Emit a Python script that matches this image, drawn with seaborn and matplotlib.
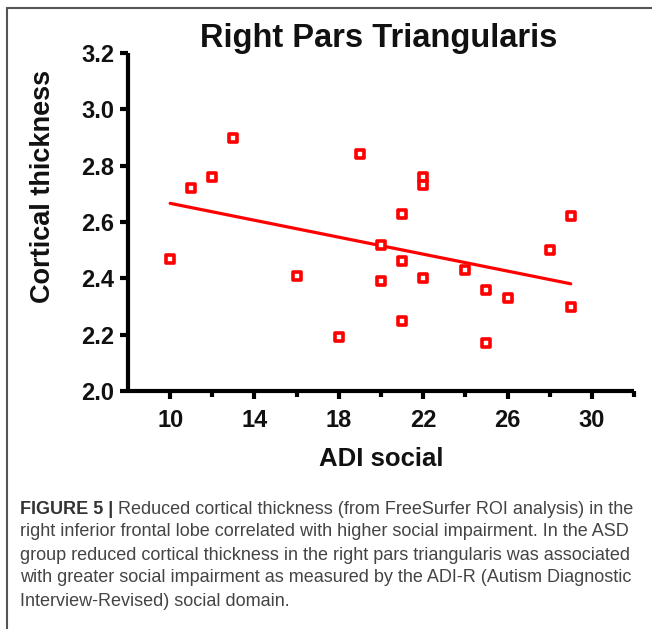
import matplotlib
matplotlib.use("Agg")
import matplotlib.pyplot as plt
import seaborn as sns
import pandas as pd
import numpy as np
from matplotlib.lines import Line2D

# ---- data ----
adi_social = [10, 11, 12, 13, 16, 18, 19, 20, 20, 21, 21, 21, 22, 22, 22, 24, 25, 25, 26, 28, 29, 29]
thickness = [2.47, 2.72, 2.76, 2.90, 2.41, 2.19, 2.84, 2.52, 2.39, 2.63, 2.46, 2.25,
             2.76, 2.73, 2.40, 2.43, 2.36, 2.17, 2.33, 2.50, 2.62, 2.30]
x_ticks = [10, 14, 18, 22, 26, 30]
x_minor = [12, 16, 20, 24, 28, 32]
y_ticks = [2.0, 2.2, 2.4, 2.6, 2.8, 3.0, 3.2]
title = "Right Pars Triangularis"
xlabel = "ADI social"
ylabel = "Cortical thickness"
caption_bold = "FIGURE 5 |"
caption_lines = [
    " Reduced cortical thickness (from FreeSurfer ROI analysis) in the",
    "right inferior frontal lobe correlated with higher social impairment. In the ASD",
    "group reduced cortical thickness in the right pars triangularis was associated",
    "with greater social impairment as measured by the ADI-R (Autism Diagnostic",
    "Interview-Revised) social domain.",
]

df = pd.DataFrame({"adi": adi_social, "thick": thickness})

sns.set_theme(style="ticks")
plt.rcParams['font.family'] = ['Liberation Sans', 'DejaVu Sans']

W, H = 652, 629
fig = plt.figure(figsize=(W / 100, H / 100), dpi=100)
ax = fig.add_axes([128 / W, 1 - 391 / H, (634 - 128) / W, (391 - 53) / H])

red = "#ff0000"
sns.regplot(data=df, x="adi", y="thick", ax=ax, ci=None, marker="s",
            scatter_kws=dict(s=30, facecolor="white", edgecolor=red, alpha=1,
                             linewidths=2.6, zorder=3),
            line_kws=dict(color=red, lw=2.3, zorder=2))

ax.set_xlim(8, 32)
ax.set_ylim(2.0, 3.2)
ax.set_xticks(x_ticks)
ax.set_xticks(x_minor, minor=True)
ax.set_yticks(y_ticks)
ax.set_yticklabels([f"{v:.1f}" for v in y_ticks])
ax.set_xticklabels([str(v) for v in x_ticks])

for s in ["top", "right"]:
    ax.spines[s].set_visible(False)
for s in ["left", "bottom"]:
    ax.spines[s].set_linewidth(3.0)
    ax.spines[s].set_color("black")
    ax.spines[s].set_capstyle("butt")

ax.tick_params(axis="both", which="major", length=6, width=3, color="black",
               labelsize=17, direction="out")
ax.tick_params(axis="x", which="major", pad=7)
ax.tick_params(axis="y", which="major", pad=4)
ax.tick_params(axis="x", which="minor", length=4, width=3, color="black", direction="out")
for lab in ax.get_xticklabels() + ax.get_yticklabels():
    lab.set_fontweight("bold")
    lab.set_color("#111111")

ax.set_xlabel(xlabel, fontsize=18.5, fontweight="bold", labelpad=11, color="#111111")
ax.set_ylabel("")
fig.text(43 / W, 1 - 186 / H, ylabel, rotation=90, ha="center", va="center",
         fontsize=19.5, fontweight="bold", color="#111111")
ax.set_facecolor("white")

fig.text(379 / W, 1 - 39 / H, title, ha="center", va="center",
         fontsize=23.5, fontweight="bold", color="#111111")

# frame
fig.add_artist(Line2D([7 / W, 1.0], [1 - 8 / H, 1 - 8 / H], color="#555555", lw=1.5,
                      transform=fig.transFigure))
fig.add_artist(Line2D([7 / W, 7 / W], [1 - 8 / H, 0.0], color="#555555", lw=1.5,
                      transform=fig.transFigure))

# caption
cap_fam = ['Liberation Sans', 'DejaVu Sans']
y0 = 509
dy = 23
fs = 13
t = fig.text(20 / W, 1 - y0 / H, caption_bold, ha="left", va="center",
             fontsize=fs, fontweight="bold", color="#333333", family=cap_fam)
fig.canvas.draw()
bb = t.get_window_extent()
x_after = bb.x1 / W
fig.text(x_after, 1 - y0 / H, caption_lines[0], ha="left", va="center",
         fontsize=fs, color="#444444", family=cap_fam)
for i, line in enumerate(caption_lines[1:], start=1):
    fig.text(20 / W, 1 - (y0 + i * dy) / H, line, ha="left", va="center",
             fontsize=fs, color="#444444", family=cap_fam)

fig.savefig("out.png", dpi=100, facecolor="white")
